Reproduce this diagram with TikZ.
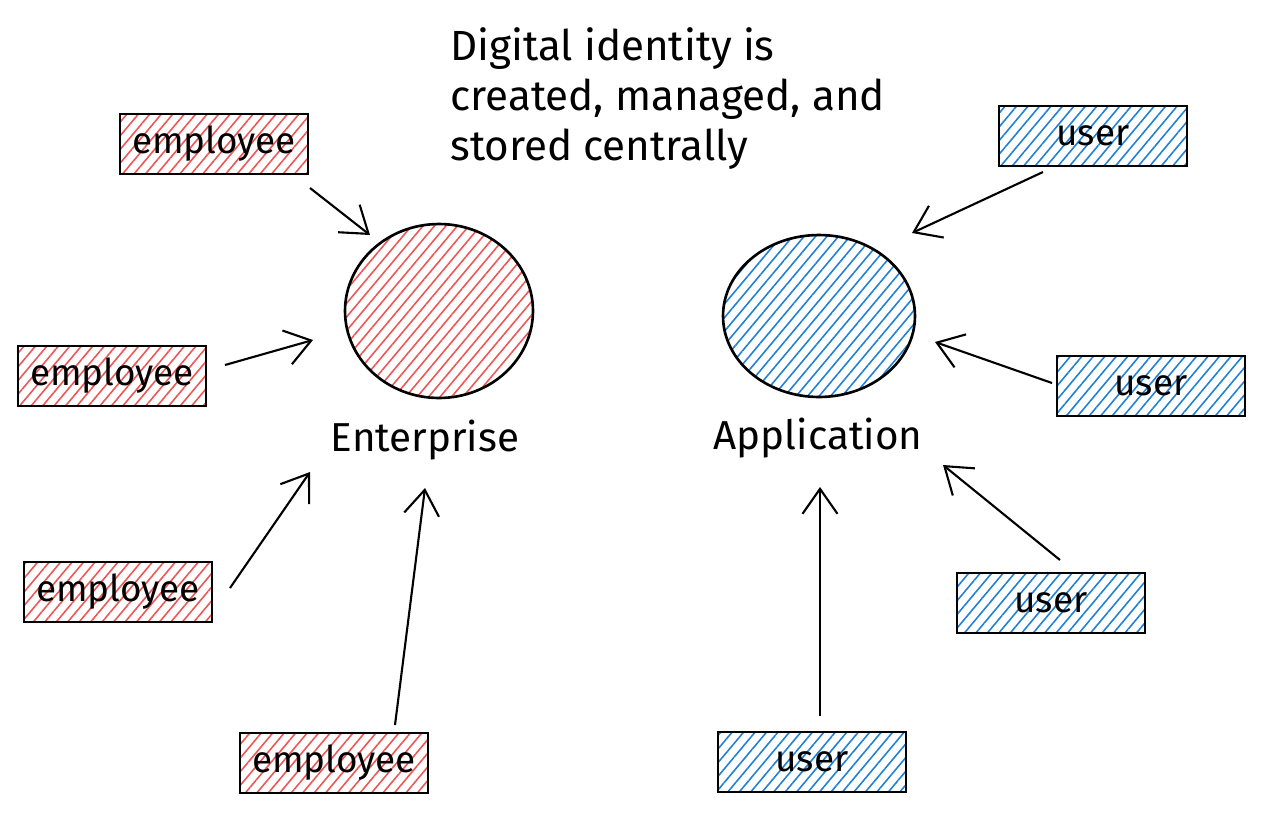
\documentclass[tikz,border=0pt]{standalone}
\usepackage{fontspec}
\setmainfont{Fira Sans}
\usetikzlibrary{arrows.meta,patterns.meta,shapes.geometric}
\definecolor{hatchred}{RGB}{240,85,85}
\definecolor{hatchblue}{RGB}{30,128,215}

\begin{document}
\begin{tikzpicture}[x=0.02cm,y=-0.02cm,
  hatch/.style={pattern={Lines[angle=50,distance=5pt,line width=0.9pt]}},
  idbox/.style={draw,line width=1.5pt,minimum width=3.76cm,minimum height=1.2cm,
    font=\fontsize{21}{25}\selectfont},
  redbox/.style={idbox,hatch,pattern color=hatchred},
  bluebox/.style={idbox,hatch,pattern color=hatchblue},
  hub/.style={ellipse,draw,line width=1.5pt,inner sep=0pt,hatch},
  feed/.style={line width=1.2pt,-{Straight Barb[length=5mm,width=7mm,line width=1.2pt]}},
  caption/.style={font=\fontsize{23}{27}\selectfont}]
\useasboundingbox (0,0) rectangle (1268,812);
% the two centres
\node (ent) [hub,minimum width=3.76cm,minimum height=3.48cm,pattern color=hatchred] at (439,311) {};
\node (app) [hub,minimum width=3.84cm,minimum height=3.24cm,pattern color=hatchblue] at (819,316) {};
\node (entlabel) [caption] at (425,440) {Enterprise};
\node (applabel) [caption] at (818,438) {Application};
\node (title) [anchor=north west,inner sep=0pt,align=left,
  font=\fontsize{24}{28.5}\selectfont] at (450,27)
  {Digital identity is\\created, managed, and\\stored centrally};
% employees
\node (e1) [redbox] at (214,144) {employee};
\node (e2) [redbox] at (112,376) {employee};
\node (e3) [redbox] at (118,592) {employee};
\node (e4) [redbox] at (334,763) {employee};
% users
\node (u1) [bluebox] at (1093,136) {user};
\node (u2) [bluebox] at (1151,386) {user};
\node (u3) [bluebox] at (1051,603) {user};
\node (u4) [bluebox] at (812,762) {user};
% arrow ends
\coordinate (e1out) at (310,188);  \coordinate (ent1) at (370,235);
\coordinate (e2out) at (225,365);  \coordinate (ent2) at (313,340);
\coordinate (e3out) at (230,588);  \coordinate (ent3) at (310,472);
\coordinate (e4out) at (395,725);  \coordinate (ent4) at (425,488);
\coordinate (u1out) at (1043,172); \coordinate (app1) at (912,233);
\coordinate (u2out) at (1052,383); \coordinate (app2) at (935,342);
\coordinate (u3out) at (1060,560); \coordinate (app3) at (943,465);
\coordinate (u4out) at (820,716);  \coordinate (app4) at (820,487);
\draw [feed] (e1out)--(ent1);
\draw [feed] (e2out)--(ent2);
\draw [feed] (e3out)--(ent3);
\draw [feed] (e4out)--(ent4);
\draw [feed] (u1out)--(app1);
\draw [feed] (u2out)--(app2);
\draw [feed] (u3out)--(app3);
\draw [feed] (u4out)--(app4);
\end{tikzpicture}
\end{document}
